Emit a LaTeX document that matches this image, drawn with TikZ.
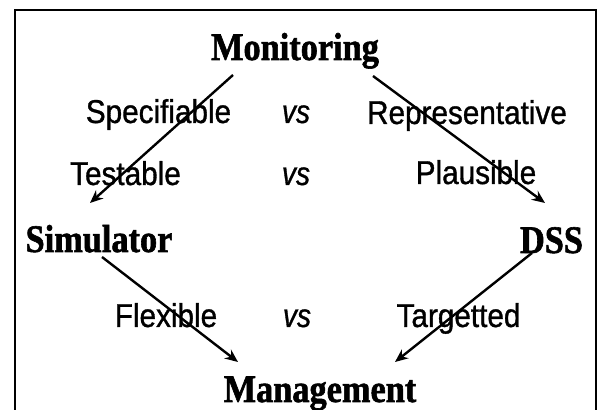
\documentclass[tikz,border=0pt]{standalone}
\usepackage{fontspec}
\setmainfont{Liberation Serif}
\newfontfamily\headfont[FakeStretch=0.88,FakeBold=1.5]{Liberation Serif Bold}
\newfontfamily\labfont[FakeStretch=0.9,FakeBold=1]{Liberation Sans}
\newfontfamily\vsfont[FakeStretch=0.85,FakeBold=1]{Liberation Sans Italic}
\usetikzlibrary{arrows.meta}
\begin{document}
\begin{tikzpicture}[x=1pt,y=1pt,
  head/.style={inner sep=0pt, anchor=base, font=\headfont\fontsize{39}{41}\selectfont},
  lab/.style={inner sep=0pt, anchor=base, font=\labfont\fontsize{33}{35}\selectfont},
  vslab/.style={inner sep=0pt, anchor=base, font=\vsfont\fontsize{33}{35}\selectfont},
  arr/.style={line width=2.4pt, -{Stealth[length=13pt,width=11pt]}},
  frame/.style={line width=1.5pt}]
\useasboundingbox (0,0) rectangle (598,410);
\fill[white] (0,0) rectangle (598,410);
\draw[frame] (15,0) -- (15,400) -- (596,400) -- (596,0);

\node[head] (mon) at (295,350) {Monitoring};
\node[head] (sim) at (99,158) {Simulator};
\node[head] (dss) at (551.5,157) {DSS};
\node[head] (man) at (320,8) {Management};

\node[lab] (spec) at (158.5,287) {Specifiable};
\node[vslab] (vs1) at (296,287) {vs};
\node[lab] (repr) at (467,286) {Representative};
\node[lab] (test) at (125.5,225) {Testable};
\node[vslab] (vs2) at (296,225) {vs};
\node[lab] (plau) at (476,226) {Plausible};
\node[lab] (flex) at (166,83) {Flexible};
\node[vslab] (vs3) at (297,83) {vs};
\node[lab] (targ) at (458.5,83) {Targetted};

\draw[arr] ([shift={(-62,-15)}]mon.base) -- ([shift={(-9,49)}]sim.base);
\draw[arr] ([shift={(78,-16)}]mon.base) -- ([shift={(-6.5,50)}]dss.base);
\draw[arr] ([shift={(3,-5)}]sim.base) -- ([shift={(-82,40)}]man.base);
\draw[arr] ([shift={(-19.5,0)}]dss.base) -- ([shift={(75,40)}]man.base);
\end{tikzpicture}
\end{document}
